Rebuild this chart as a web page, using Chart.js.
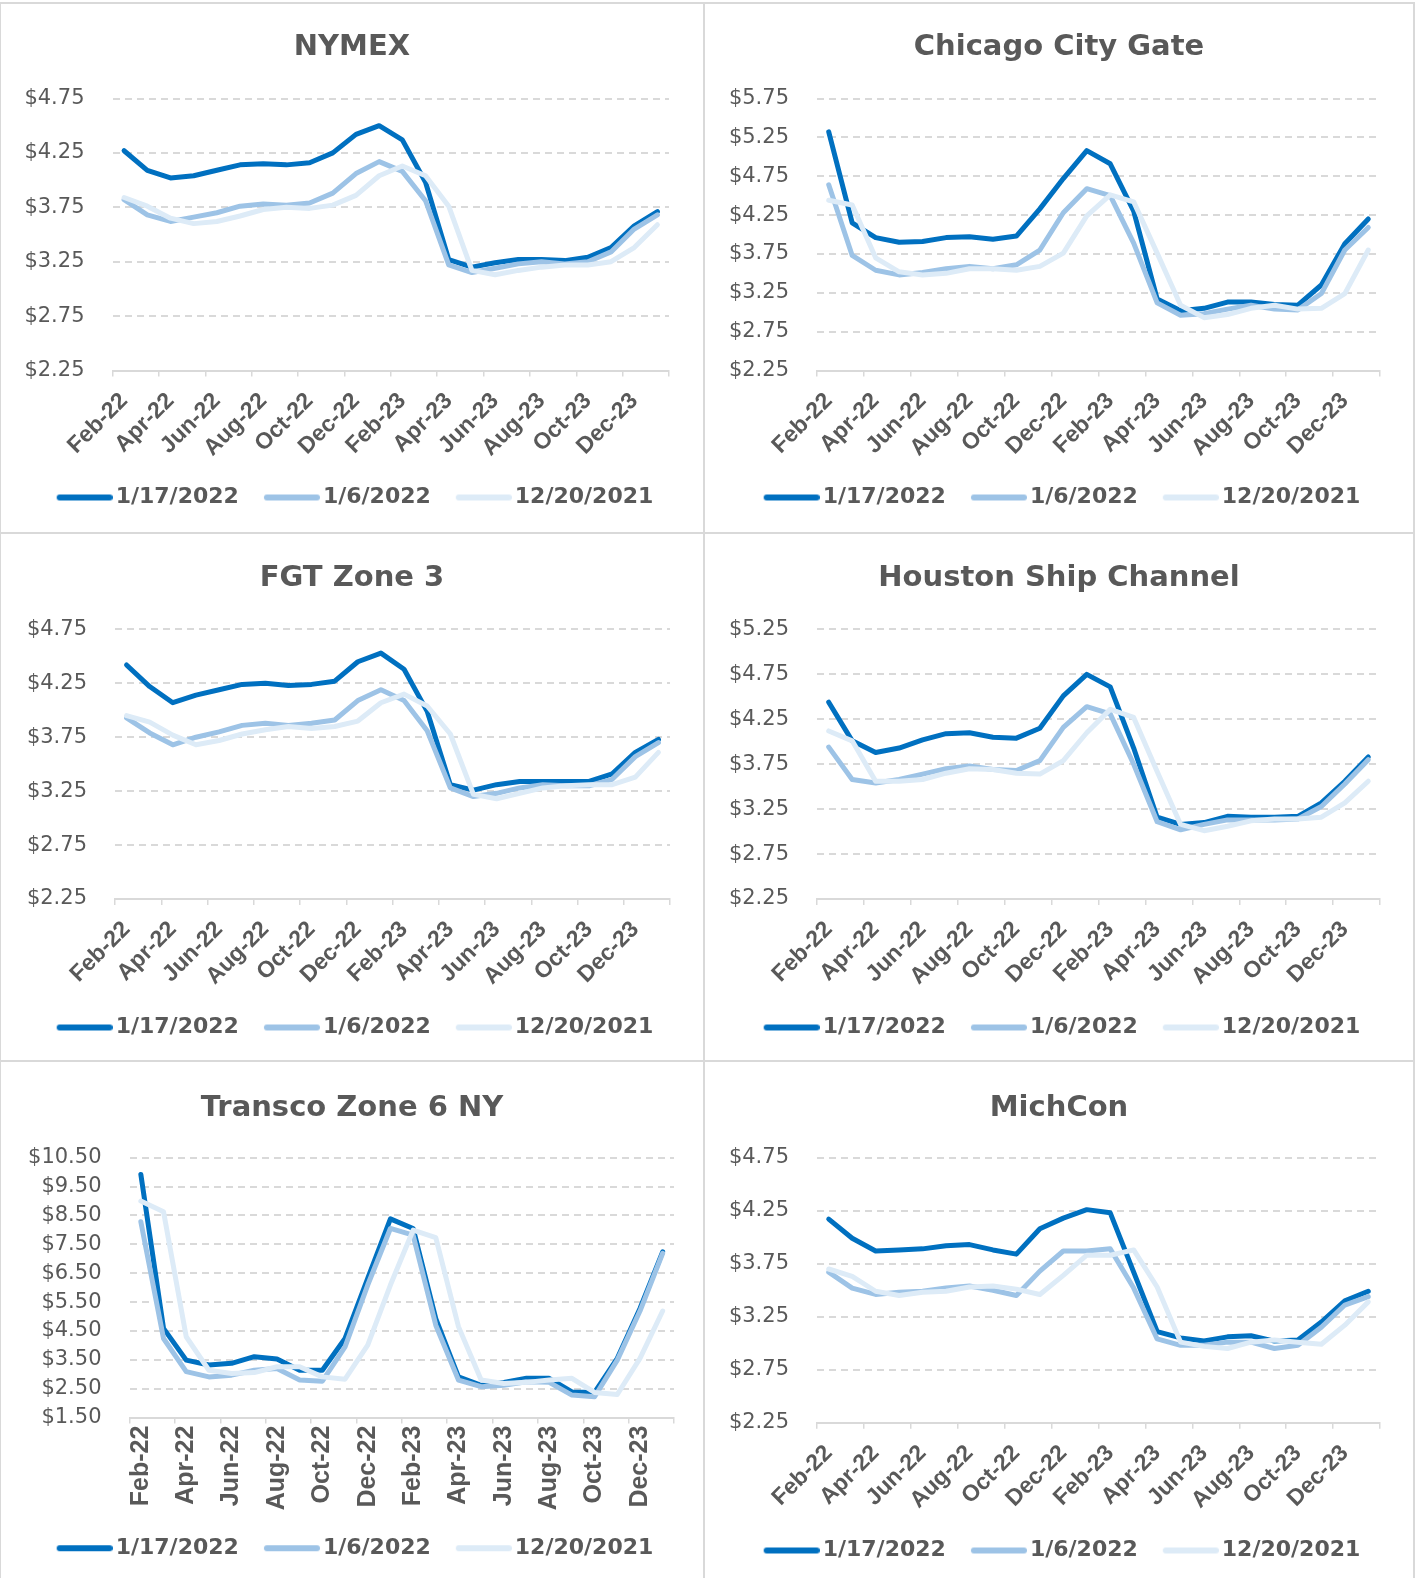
<!DOCTYPE html>
<html>
<head>
<meta charset="utf-8">
<script src="https://cdn.jsdelivr.net/npm/chart.js@4.4.0/dist/chart.umd.min.js"></script>
<style>
  body { margin: 0; background: #fff; width: 1419px; height: 1578px; position: relative; overflow: hidden; }
  .cell { position: absolute; }
  .ln { position: absolute; background: #d9d9d9; }
</style>
</head>
<body>
<div class="ln" style="left:0;top:2px;width:1415px;height:2px"></div>
<div class="ln" style="left:0;top:2px;width:1px;height:1576px"></div>
<div class="ln" style="left:703px;top:2px;width:2px;height:1576px"></div>
<div class="ln" style="left:1413px;top:2px;width:2px;height:1576px"></div>
<div class="ln" style="left:0;top:532px;width:1415px;height:2px"></div>
<div class="ln" style="left:0;top:1060px;width:1415px;height:2px"></div>

<div class="cell" id="c0"><canvas id="chart0"></canvas></div>
<div class="cell" id="c1"><canvas id="chart1"></canvas></div>
<div class="cell" id="c2"><canvas id="chart2"></canvas></div>
<div class="cell" id="c3"><canvas id="chart3"></canvas></div>
<div class="cell" id="c4"><canvas id="chart4"></canvas></div>
<div class="cell" id="c5"><canvas id="chart5"></canvas></div>

<script>
var months = ['Feb-22','Mar-22','Apr-22','May-22','Jun-22','Jul-22','Aug-22','Sep-22','Oct-22','Nov-22','Dec-22','Jan-23',
              'Feb-23','Mar-23','Apr-23','May-23','Jun-23','Jul-23','Aug-23','Sep-23','Oct-23','Nov-23','Dec-23','Jan-24'];
var seriesNames = ['1/17/2022', '1/6/2022', '12/20/2021'];
var seriesColors = ['#0070C0', '#9DC3E6', '#DDEBF7'];

var nymexJan17 = [4.27,4.09,4.02,4.04,4.09,4.14,4.15,4.14,4.16,4.25,4.42,4.50,4.37,3.98,3.27,3.20,3.24,3.27,3.27,3.26,3.29,3.38,3.58,3.71];
var nymexJan06 = [3.82,3.68,3.62,3.66,3.70,3.76,3.78,3.77,3.79,3.88,4.06,4.17,4.08,3.81,3.22,3.15,3.19,3.23,3.25,3.23,3.25,3.34,3.55,3.68];
var nymexDec20 = [3.84,3.76,3.65,3.60,3.62,3.67,3.73,3.75,3.74,3.77,3.86,4.04,4.13,4.04,3.76,3.17,3.13,3.17,3.20,3.22,3.22,3.25,3.38,3.59];

var chicagoJan17 = [5.32,4.15,3.96,3.90,3.91,3.96,3.97,3.94,3.98,4.33,4.72,5.08,4.91,4.30,3.17,3.02,3.05,3.13,3.13,3.10,3.09,3.35,3.88,4.20];
var chicagoJan06 = [4.64,3.73,3.54,3.48,3.51,3.56,3.59,3.56,3.61,3.80,4.28,4.59,4.50,3.89,3.12,2.96,2.98,3.04,3.09,3.04,3.03,3.24,3.80,4.09];
var chicagoDec20 = [4.44,4.38,3.70,3.52,3.48,3.50,3.56,3.56,3.54,3.59,3.76,4.24,4.51,4.42,3.76,3.09,2.93,2.97,3.05,3.09,3.04,3.05,3.24,3.80];

var fgtJan17 = [4.42,4.22,4.07,4.14,4.19,4.24,4.25,4.23,4.24,4.27,4.45,4.53,4.38,3.99,3.31,3.26,3.31,3.34,3.34,3.34,3.34,3.41,3.61,3.73];
var fgtJan06 = [3.93,3.79,3.68,3.75,3.80,3.86,3.88,3.86,3.88,3.91,4.09,4.19,4.09,3.81,3.28,3.20,3.23,3.28,3.31,3.30,3.30,3.36,3.57,3.70];
var fgtDec20 = [3.95,3.89,3.77,3.68,3.72,3.78,3.82,3.85,3.83,3.85,3.90,4.07,4.15,4.04,3.78,3.22,3.18,3.23,3.28,3.30,3.31,3.31,3.38,3.61];

var houstonJan17 = [4.44,4.01,3.88,3.93,4.02,4.09,4.10,4.05,4.04,4.15,4.51,4.75,4.61,3.93,3.16,3.08,3.10,3.17,3.16,3.16,3.17,3.32,3.56,3.83];
var houstonJan06 = [3.94,3.58,3.54,3.58,3.64,3.70,3.73,3.69,3.68,3.79,4.16,4.39,4.31,3.75,3.11,3.02,3.08,3.13,3.13,3.13,3.14,3.28,3.53,3.80];
var houstonDec20 = [4.12,4.01,3.56,3.56,3.58,3.65,3.70,3.69,3.65,3.64,3.79,4.10,4.36,4.27,3.67,3.08,3.01,3.06,3.12,3.14,3.14,3.16,3.32,3.56];

var transcoJan17 = [9.92,4.59,3.49,3.32,3.38,3.61,3.53,3.14,3.14,4.24,6.32,8.38,8.05,4.93,2.91,2.62,2.72,2.86,2.86,2.39,2.37,3.55,5.28,7.24];
var transcoJan06 = [8.28,4.24,3.09,2.91,2.97,3.14,3.20,2.80,2.76,3.95,6.09,8.05,7.82,4.70,2.80,2.57,2.62,2.74,2.72,2.28,2.22,3.49,5.19,7.19];
var transcoDec20 = [9.00,8.63,4.30,3.14,3.03,3.06,3.26,3.26,2.91,2.83,4.01,6.09,7.99,7.73,4.65,2.80,2.68,2.72,2.80,2.86,2.37,2.30,3.55,5.19];

var michconJan17 = [4.17,3.99,3.87,3.88,3.89,3.92,3.93,3.88,3.84,4.08,4.18,4.26,4.23,3.67,3.11,3.05,3.02,3.06,3.07,3.02,3.03,3.20,3.40,3.49];
var michconJan06 = [3.67,3.52,3.46,3.48,3.49,3.52,3.54,3.50,3.45,3.68,3.87,3.87,3.89,3.52,3.04,2.98,2.98,3.01,3.01,2.95,2.98,3.15,3.36,3.44];
var michconDec20 = [3.70,3.63,3.49,3.45,3.48,3.49,3.53,3.54,3.51,3.46,3.64,3.83,3.83,3.88,3.53,3.01,2.97,2.95,3.01,3.03,3.01,2.99,3.17,3.39];

var hubs = [
  { title: 'NYMEX', series: [nymexJan17, nymexJan06, nymexDec20], min: 2.25, max: 4.75, step: 0.5 },
  { title: 'Chicago City Gate', series: [chicagoJan17, chicagoJan06, chicagoDec20], min: 2.25, max: 5.75, step: 0.5 },
  { title: 'FGT Zone 3', series: [fgtJan17, fgtJan06, fgtDec20], min: 2.25, max: 4.75, step: 0.5 },
  { title: 'Houston Ship Channel', series: [houstonJan17, houstonJan06, houstonDec20], min: 2.25, max: 5.25, step: 0.5 },
  { title: 'Transco Zone 6 NY', series: [transcoJan17, transcoJan06, transcoDec20], min: 1.5, max: 10.5, step: 1 },
  { title: 'MichCon', series: [michconJan17, michconJan06, michconDec20], min: 2.25, max: 4.75, step: 0.5 }
];

// where each panel sits on the page (absolute px) and where its plot area should land
var layouts = [
  { x: 2,   y: 4,    w: 700, h: 528, l: 112.5, r: 669,  t: 98.5,   b: 370.5,  titleY: 44.5,  legendY: 495,    rot: 45 },
  { x: 706, y: 4,    w: 706, h: 528, l: 817,   r: 1380, t: 98.5,   b: 370.5,  titleY: 44.5,  legendY: 495,    rot: 45 },
  { x: 2,   y: 535,  w: 700, h: 525, l: 115,   r: 670,  t: 629.4,  b: 899,    titleY: 575.5, legendY: 1025,   rot: 45 },
  { x: 706, y: 535,  w: 706, h: 525, l: 817,   r: 1380, t: 629.4,  b: 899,    titleY: 575.5, legendY: 1025,   rot: 45 },
  { x: 2,   y: 1063, w: 700, h: 515, l: 129.5, r: 674,  t: 1157.7, b: 1417.6, titleY: 1105,  legendY: 1545.7, rot: 90 },
  { x: 706, y: 1063, w: 706, h: 515, l: 817,   r: 1380, t: 1157.7, b: 1422.7, titleY: 1105,  legendY: 1548,   rot: 45 }
];

Chart.defaults.font.family = 'DejaVu Sans';
Chart.defaults.color = '#595959';

var TITLE_SIZE = 29, TITLE_NUDGE = 3;
var LEGEND_SIZE = 22, LEGEND_PAD = 19, SWATCH_W = 54, LEGEND_NUDGE = 2.5;

// legend swatches: thick rounded line, sitting at the right of the image
var swatches = seriesColors.map(function(col) {
  var c = document.createElement('canvas');
  c.width = 70; c.height = 8;
  var g = c.getContext('2d');
  g.strokeStyle = col; g.lineWidth = 6; g.lineCap = 'round';
  g.beginPath(); g.moveTo(17, 4); g.lineTo(67, 4); g.stroke();
  return c;
});

function drawHub(idx) {
  var hub = hubs[idx], lay = layouts[idx];
  var cell = document.getElementById('c' + idx);
  cell.style.left = lay.x + 'px'; cell.style.top = lay.y + 'px';
  var cv = document.getElementById('chart' + idx);
  cv.width = lay.w; cv.height = lay.h;

  var vertical = lay.rot === 90;
  var yWidth = lay.l - lay.x;
  var rightWidth = lay.x + lay.w - lay.r;
  var tPadTop = (lay.titleY + TITLE_NUDGE - lay.y) - TITLE_SIZE / 2;
  var tPadBottom = (lay.t - lay.y) - tPadTop - TITLE_SIZE;
  var legendTop = lay.legendY + LEGEND_NUDGE - LEGEND_PAD - LEGEND_SIZE / 2;
  var legendH = LEGEND_SIZE + LEGEND_PAD + 10;
  var xHeight = legendTop - lay.b;
  var padBottom = (lay.y + lay.h) - (legendTop + legendH);

  var datasets = hub.series.map(function(vals, k) {
    return {
      label: seriesNames[k],
      data: vals,
      borderColor: seriesColors[k],
      backgroundColor: seriesColors[k],
      borderWidth: 5,
      pointRadius: 0,
      tension: 0,
      borderJoinStyle: 'round',
      borderCapStyle: 'round',
      order: 3 - k
    };
  });

  new Chart(cv.getContext('2d'), {
    type: 'line',
    data: { labels: months, datasets: datasets },
    options: {
      responsive: false,
      animation: false,
      layout: { padding: { left: 0, right: 0, top: 0, bottom: padBottom } },
      plugins: {
        title: {
          display: true,
          text: hub.title,
          color: '#595959',
          font: { size: TITLE_SIZE, weight: 'bold', lineHeight: 1 },
          padding: { top: tPadTop, bottom: tPadBottom }
        },
        legend: {
          position: 'bottom',
          labels: {
            usePointStyle: true,
            pointStyleWidth: SWATCH_W,
            padding: LEGEND_PAD,
            color: '#595959',
            font: { size: LEGEND_SIZE, weight: 'bold' },
            sort: function(a, b) { return a.datasetIndex - b.datasetIndex; },
            generateLabels: function(chart) {
              var items = Chart.defaults.plugins.legend.labels.generateLabels(chart);
              items.forEach(function(it) { it.pointStyle = swatches[it.datasetIndex]; });
              return items;
            }
          }
        },
        tooltip: { enabled: false }
      },
      scales: {
        x: {
          offset: true,
          afterFit: function(s) { s.height = xHeight; },
          grid: {
            offset: true,
            drawOnChartArea: false,
            drawTicks: true,
            tickLength: 6,
            lineWidth: 1.5,
            tickColor: function(c) {
              return (c.index === undefined || c.index % 2 === 0) ? '#d9d9d9' : 'rgba(0,0,0,0)';
            }
          },
          border: { display: true, color: '#d9d9d9', width: 2 },
          ticks: {
            autoSkip: false,
            minRotation: lay.rot,
            maxRotation: lay.rot,
            padding: vertical ? 2 : 11,
            color: '#595959',
            font: { family: 'Liberation Sans', size: vertical ? 25 : 23, weight: 'bold' },
            callback: function(v, i) { return i % 2 === 0 ? months[i] : ''; }
          }
        },
        y: {
          min: hub.min,
          max: hub.max,
          afterFit: function(s) { s.width = yWidth; },
          grid: { color: '#d9d9d9', lineWidth: 2, drawTicks: false },
          border: { display: false, dash: [7, 5] },
          ticks: {
            stepSize: hub.step,
            autoSkip: false,
            padding: 28,
            color: '#595959',
            font: { size: 21 },
            callback: function(v) { return '$' + Number(v).toFixed(2); }
          }
        },
        // empty right-hand axis that only reserves the gap right of the plot
        yPad: {
          type: 'linear',
          position: 'right',
          afterFit: function(s) { s.width = rightWidth; },
          grid: { display: false, drawTicks: false },
          border: { display: false },
          ticks: { display: false }
        }
      }
    }
  });
}

for (var i = 0; i < hubs.length; i++) drawHub(i);
</script>
</body>
</html>
